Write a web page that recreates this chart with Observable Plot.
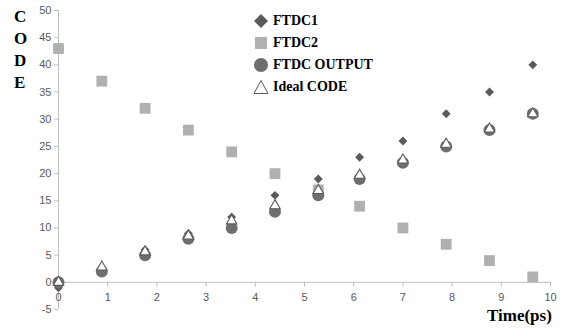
<!DOCTYPE html>
<html>
<head>
<meta charset="utf-8">
<script src="https://cdn.jsdelivr.net/npm/d3@7"></script>
<script src="https://cdn.jsdelivr.net/npm/@observablehq/plot@0.6"></script>
<style>
  body { margin: 0; background: #fff; }
  #wrap { position: relative; width: 563px; height: 331px; }
  .lbl { position: absolute; font-family: "Liberation Serif", serif; font-weight: bold; color: #000; }
  #legend { position: absolute; left: 253px; top: 10px; font-family: "Liberation Serif", serif; font-weight: bold; font-size: 14px; }
  #legend .row { display: flex; align-items: center; height: 22px; }
  #legend svg { margin-right: 4px; }
</style>
</head>
<body>
<div id="wrap"></div>
<script>
const times = [0, 0.88, 1.76, 2.64, 3.52, 4.4, 5.28, 6.12, 7.0, 7.88, 8.76, 9.64];
const ftdc1 = [-1, 2, 6, 9, 12, 16, 19, 23, 26, 31, 35, 40];
const ftdc2 = [43, 37, 32, 28, 24, 20, 17, 14, 10, 7, 4, 1];
const ftdcOut = [0, 2, 5, 8, 10, 13, 16, 19, 22, 25, 28, 31];
const ideal = [0, 2.8, 5.6, 8.5, 11.3, 14.1, 16.9, 19.7, 22.5, 25.4, 28.2, 31];
const xTicks = [0, 1, 2, 3, 4, 5, 6, 7, 8, 9, 10];
const yTicks = [-5, 0, 5, 10, 15, 20, 25, 30, 35, 40, 45, 50];
const seriesNames = ["FTDC1", "FTDC2", "FTDC OUTPUT", "Ideal CODE"];

const mk = (vals) => times.map((t, i) => ({t, v: vals[i]}));
const axisColor = "#bfbfbf";
const tickText = "#595959";

const chart = Plot.plot({
  width: 563,
  height: 331,
  marginLeft: 58,
  marginRight: 13,
  marginTop: 10,
  marginBottom: 22,
  style: { fontFamily: "Liberation Sans, sans-serif", fontSize: "11px", color: tickText, background: "white" },
  x: { domain: [0, 10], axis: null },
  y: { domain: [-5, 50] },
  marks: [
    Plot.axisY(yTicks, { tickSize: 4, tickPadding: 3, stroke: axisColor, label: null, fill: tickText, tickFormat: d => String(d) }),
    Plot.ruleX([0], { y1: -5, y2: 50, stroke: axisColor }),
    Plot.ruleY([0], { x1: 0, x2: 10, stroke: axisColor }),
    Plot.ruleX(xTicks, { x: d => d, y1: 0, y2: -0.9, stroke: axisColor }),
    Plot.text(xTicks, { x: d => d, y: 0, dy: 15, text: d => String(d), fill: tickText }),
    Plot.dot(mk(ftdc1), { x: "t", y: "v", symbol: "diamond2", r: 4, fill: "#5a5a5a", stroke: "none" }),
    Plot.dot(mk(ftdc2), { x: "t", y: "v", symbol: "square", r: 6.1, fill: "#b0b0b0", stroke: "none" }),
    Plot.dot(mk(ftdcOut), { x: "t", y: "v", symbol: "circle", r: 6, fill: "#6e6e6e", stroke: "none" }),
    Plot.dot(mk(ideal), { x: "t", y: "v", symbol: "triangle", r: 3.9, fill: "white", stroke: "#5a5a5a", strokeWidth: 1.1 })
  ]
});

const wrap = document.getElementById("wrap");
wrap.appendChild(chart);

// CODE stacked label
const codeLetters = ["C", "O", "D", "E"];
codeLetters.forEach((ch, i) => {
  const d = document.createElement("div");
  d.className = "lbl";
  d.style.fontSize = "17px";
  d.style.left = "14px";
  d.style.top = (7 + i * 22) + "px";
  d.textContent = ch;
  wrap.appendChild(d);
});
const tl = document.createElement("div");
tl.className = "lbl";
tl.style.fontSize = "17px";
tl.style.left = "487px";
tl.style.top = "306px";
tl.textContent = "Time(ps)";
wrap.appendChild(tl);

// legend
const legendSymbols = [
  `<svg width="16" height="16"><path d="M8,1L15,8L8,15L1,8Z" fill="#5a5a5a"/></svg>`,
  `<svg width="16" height="16"><rect x="2" y="2" width="12" height="12" fill="#b0b0b0"/></svg>`,
  `<svg width="16" height="16"><circle cx="8" cy="8" r="7" fill="#6e6e6e"/></svg>`,
  `<svg width="16" height="16"><path d="M8,1.5L15,14.5L1,14.5Z" fill="white" stroke="#5a5a5a" stroke-width="1"/></svg>`
];
const lg = document.createElement("div");
lg.id = "legend";
seriesNames.forEach((n, i) => {
  const r = document.createElement("div");
  r.className = "row";
  r.innerHTML = legendSymbols[i] + `<span>${n}</span>`;
  lg.appendChild(r);
});
wrap.appendChild(lg);
</script>
</body>
</html>
